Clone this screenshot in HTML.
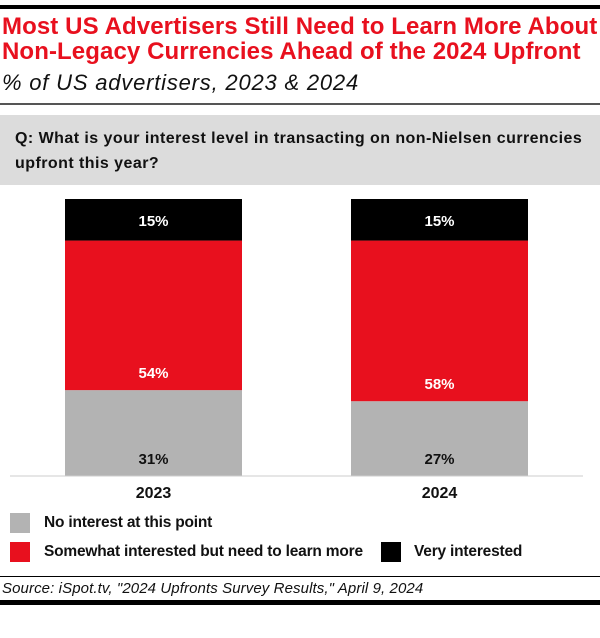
<!DOCTYPE html>
<html><head><meta charset="utf-8"><style>
body{margin:0;background:#fff;width:600px;height:638px;overflow:hidden;font-family:"Liberation Sans",sans-serif;position:relative}
div{position:absolute}
.t{color:#e8101e;font-weight:bold;font-size:24px;left:2px;letter-spacing:0.1px;white-space:nowrap;line-height:28px}
.lg{font-size:15.5px;font-weight:bold;color:#111;letter-spacing:-0.2px;white-space:nowrap;line-height:20px}
</style></head><body>
<div style="left:0;top:5px;width:600px;height:4px;background:#000"></div>
<div class="t" style="top:13px">Most US Advertisers Still Need to Learn More About</div>
<div class="t" style="top:38px">Non-Legacy Currencies Ahead of the 2024 Upfront</div>
<div style="left:2px;top:70px;font-size:22px;line-height:26px;font-style:italic;color:#111;white-space:nowrap;letter-spacing:0.8px">% of US advertisers, 2023 &amp; 2024</div>
<div style="left:0;top:103px;width:600px;height:2px;background:#555"></div>
<div style="left:0;top:115px;width:600px;height:70px;background:#dcdcdc"></div>
<div style="left:15px;top:126px;font-size:16px;font-weight:bold;line-height:25px;color:#111;white-space:nowrap;letter-spacing:0.45px">Q: What is your interest level in transacting on non-Nielsen currencies<br>upfront this year?</div>
<svg width="600" height="638" style="position:absolute;left:0;top:0" id="svg"></svg>
<div style="left:10px;top:513px;width:20px;height:20px;background:#b3b3b3"></div>
<div class="lg" style="left:44px;top:513px">No interest at this point</div>
<div style="left:10px;top:542px;width:20px;height:20px;background:#e8101e"></div>
<div class="lg" style="left:44px;top:542px">Somewhat interested but need to learn more</div>
<div style="left:381px;top:542px;width:20px;height:20px;background:#000"></div>
<div class="lg" style="left:414px;top:542px">Very interested</div>
<div style="left:0;top:576px;width:600px;height:1px;background:#000"></div>
<div style="left:2px;top:580px;font-size:15px;font-style:italic;color:#111;white-space:nowrap;letter-spacing:0.1px">Source: iSpot.tv, "2024 Upfronts Survey Results," April 9, 2024</div>
<div style="left:0;top:600px;width:600px;height:5px;background:#000"></div>
<script>
const categories=["2023","2024"];
const noInterest=[31,27];
const somewhat=[54,58];
const very=[15,15];
const svg=document.getElementById('svg');
const NS="http://www.w3.org/2000/svg";
const top0=199,bottom=476,x0=[65,351],bw=177;
const y=v=>bottom-(v/100)*(bottom-top0);
function mk(tag,attrs){const e=document.createElementNS(NS,tag);for(const k in attrs)e.setAttribute(k,attrs[k]);svg.appendChild(e);return e;}
const series=[[noInterest,"#b3b3b3","#111","none"],[somewhat,"#e8101e","#fff","somewhat"],[very,"#000","#fff","very"]];
categories.forEach((c,i)=>{
  let cum=0;
  series.forEach(([arr,col,tc,nm])=>{
    const v=arr[i];const yt=y(cum+v),yb=y(cum);
    const r=mk('rect',{x:x0[i],y:yt,width:bw,height:yb-yt,fill:col});
    
    
    const t=mk('text',{x:x0[i]+bw/2,y:(nm==="very"?(yt+yb)/2+6:yb-12),'text-anchor':'middle','font-size':15,'font-weight':'bold',fill:tc,'font-family':'Liberation Sans, sans-serif'});
    t.textContent=v+'%';
    
    
    cum+=v;
  });
  const l=mk('text',{x:x0[i]+bw/2,y:498,'text-anchor':'middle','font-size':16,'font-weight':'bold',fill:'#111','font-family':'Liberation Sans, sans-serif'});
  l.textContent=c;
  
  
});
const ax=mk('line',{x1:10,x2:583,y1:476,y2:476,stroke:'#ccc','stroke-width':1});


</script>
</body></html>
